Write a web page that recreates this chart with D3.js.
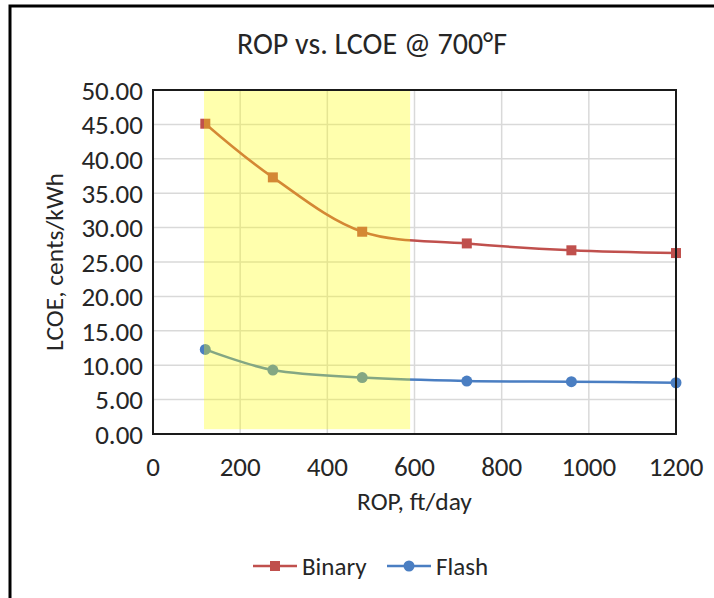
<!DOCTYPE html>
<html>
<head>
<meta charset="utf-8">
<script src="https://cdn.jsdelivr.net/npm/d3@7"></script>
<style>
  body { margin: 0; background: #fff; }
  text { font-family: Carlito, Calibri, Lato, "Liberation Sans", sans-serif; fill: #262626; }
</style>
</head>
<body>
<div id="chart"></div>
<script>
// setting up constants
const FRAME_WIDTH = 714;
const FRAME_HEIGHT = 598;
const MARGINS = {left: 153, right: 38, top: 90, bottom: 164};

const VIS_WIDTH = FRAME_WIDTH - MARGINS.left - MARGINS.right;
const VIS_HEIGHT = FRAME_HEIGHT - MARGINS.top - MARGINS.bottom;

// data
const ROP = [120, 275, 480, 720, 960, 1200];
const BINARY = [45.1, 37.3, 29.4, 27.7, 26.7, 26.3];
const FLASH = [12.3, 9.3, 8.2, 7.7, 7.6, 7.45];
const X_TICKS = [0, 200, 400, 600, 800, 1000, 1200];
const Y_TICKS = [0, 5, 10, 15, 20, 25, 30, 35, 40, 45, 50];
const HIGHLIGHT = [117, 590]; // yellow band, ft/day
const HIGHLIGHT_Y = [0.7, 50];

const FRAME = d3.select('#chart')
  .append('svg')
  .attr('width', FRAME_WIDTH)
  .attr('height', FRAME_HEIGHT);

// outer chart border (clipped on right and bottom)
FRAME.append('rect')
  .attr('x', 10).attr('y', 6)
  .attr('width', FRAME_WIDTH + 20).attr('height', FRAME_HEIGHT + 20)
  .attr('fill', 'none').attr('stroke', '#000').attr('stroke-width', 3);

const xScale = d3.scaleLinear().domain([0, 1200]).range([0, VIS_WIDTH]);
const yScale = d3.scaleLinear().domain([0, 50]).range([VIS_HEIGHT, 0]);

const plot = FRAME.append('g')
  .attr('transform', 'translate(' + MARGINS.left + ',' + MARGINS.top + ')');

// gridlines
plot.append('g')
  .selectAll('line')
  .data(Y_TICKS)
  .enter().append('line')
  .attr('x1', 0).attr('x2', VIS_WIDTH)
  .attr('y1', (d) => yScale(d)).attr('y2', (d) => yScale(d))
  .attr('stroke', '#d9d9d9').attr('stroke-width', 1.5);

plot.append('g')
  .selectAll('line')
  .data(X_TICKS)
  .enter().append('line')
  .attr('x1', (d) => xScale(d)).attr('x2', (d) => xScale(d))
  .attr('y1', 0).attr('y2', VIS_HEIGHT)
  .attr('stroke', '#d9d9d9').attr('stroke-width', 1.5);

// series
const lineGen = (vals) => d3.line()
  .x((d, i) => xScale(ROP[i]))
  .y((d) => yScale(d))
  .curve(d3.curveCatmullRom.alpha(0))(vals);

plot.append('path')
  .attr('d', lineGen(BINARY))
  .attr('fill', 'none').attr('stroke', '#c0504d').attr('stroke-width', 2.5);

plot.append('path')
  .attr('d', lineGen(FLASH))
  .attr('fill', 'none').attr('stroke', '#4a7ec2').attr('stroke-width', 2.5);

plot.selectAll('.sq')
  .data(BINARY)
  .enter().append('rect')
  .attr('class', 'sq')
  .attr('x', (d, i) => xScale(ROP[i]) - 5)
  .attr('y', (d) => yScale(d) - 5)
  .attr('width', 10).attr('height', 10)
  .attr('fill', '#c0504d');

plot.selectAll('.dot')
  .data(FLASH)
  .enter().append('circle')
  .attr('class', 'dot')
  .attr('cx', (d, i) => xScale(ROP[i]))
  .attr('cy', (d) => yScale(d))
  .attr('r', 5.5)
  .attr('fill', '#4a7ec2');

// translucent yellow band over the lines
plot.append('rect')
  .attr('x', xScale(HIGHLIGHT[0]))
  .attr('y', yScale(HIGHLIGHT_Y[1]))
  .attr('width', xScale(HIGHLIGHT[1]) - xScale(HIGHLIGHT[0]))
  .attr('height', yScale(HIGHLIGHT_Y[0]) - yScale(HIGHLIGHT_Y[1]))
  .attr('fill', '#ffff00').attr('opacity', 0.32);

// plot frame
plot.append('rect')
  .attr('x', 0).attr('y', 0)
  .attr('width', VIS_WIDTH).attr('height', VIS_HEIGHT)
  .attr('fill', 'none').attr('stroke', '#1a1a1a').attr('stroke-width', 2);

// tick labels
plot.append('g')
  .selectAll('text')
  .data(Y_TICKS)
  .enter().append('text')
  .attr('x', -10)
  .attr('y', (d) => yScale(d))
  .attr('dy', '0.36em')
  .attr('text-anchor', 'end')
  .attr('font-size', 27)
  .text((d) => d.toFixed(2));

plot.append('g')
  .selectAll('text')
  .data(X_TICKS)
  .enter().append('text')
  .attr('x', (d) => xScale(d))
  .attr('y', VIS_HEIGHT + 42)
  .attr('text-anchor', 'middle')
  .attr('font-size', 27)
  .text((d) => d);

// titles
FRAME.append('text')
  .attr('x', 372).attr('y', 54)
  .attr('text-anchor', 'middle')
  .attr('font-size', 30)
  .text('ROP vs. LCOE @ 700°F');

FRAME.append('text')
  .attr('x', MARGINS.left + VIS_WIDTH / 2).attr('y', 510)
  .attr('text-anchor', 'middle')
  .attr('font-size', 25.5)
  .text('ROP, ft/day');

FRAME.append('text')
  .attr('transform', 'translate(63,' + (MARGINS.top + VIS_HEIGHT / 2) + ') rotate(-90)')
  .attr('text-anchor', 'middle')
  .attr('font-size', 25.5)
  .text('LCOE, cents/kWh');

// legend
const legend = FRAME.append('g').attr('transform', 'translate(0,566)');
legend.append('line').attr('x1', 253).attr('x2', 297).attr('y1', 0).attr('y2', 0)
  .attr('stroke', '#c0504d').attr('stroke-width', 2.5);
legend.append('rect').attr('x', 270).attr('y', -5).attr('width', 10).attr('height', 10)
  .attr('fill', '#c0504d');
legend.append('text').attr('x', 302).attr('y', 0).attr('dy', '0.36em')
  .attr('font-size', 25).text('Binary');
legend.append('line').attr('x1', 387).attr('x2', 431).attr('y1', 0).attr('y2', 0)
  .attr('stroke', '#4a7ec2').attr('stroke-width', 2.5);
legend.append('circle').attr('cx', 409).attr('cy', 0).attr('r', 5.5)
  .attr('fill', '#4a7ec2');
legend.append('text').attr('x', 436).attr('y', 0).attr('dy', '0.36em')
  .attr('font-size', 25).text('Flash');
</script>
</body>
</html>
